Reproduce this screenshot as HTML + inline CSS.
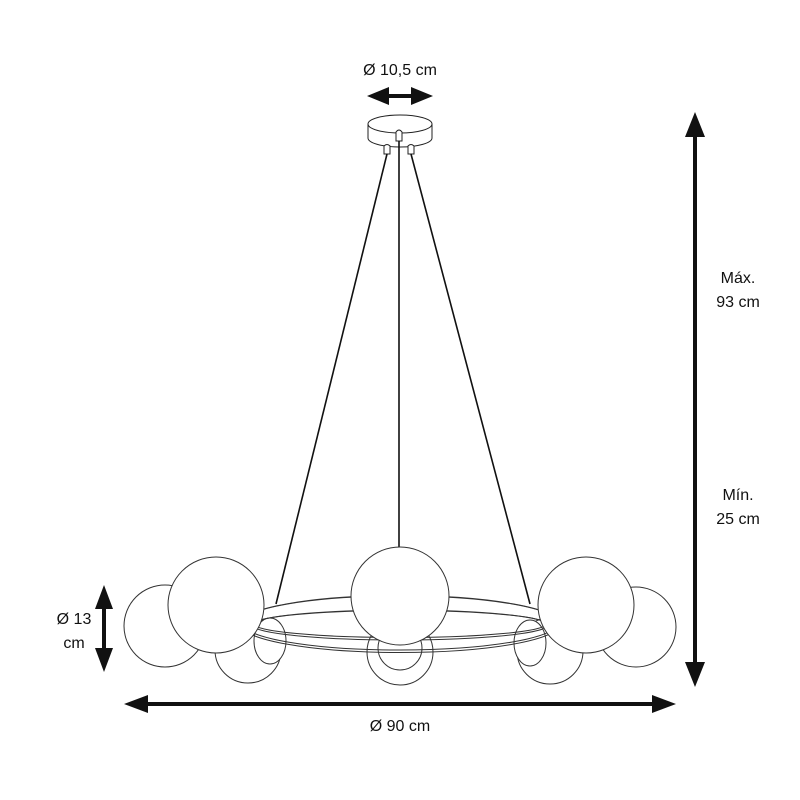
<!DOCTYPE html>
<html><head><meta charset="utf-8"><style>
html,body{margin:0;padding:0;background:#fff}
svg{display:block}
text{font-family:"Liberation Sans","DejaVu Sans",sans-serif;font-size:16px;fill:#111}
</style></head><body>
<svg width="800" height="800" viewBox="0 0 800 800" xmlns="http://www.w3.org/2000/svg">
<rect width="800" height="800" fill="#fff"/>
<g fill="#111" stroke="none">
<rect x="385" y="94" width="30" height="4"/>
<polygon points="367,96 389,87 389,105"/>
<polygon points="433,96 411,87 411,105"/>
<rect x="693" y="130" width="4" height="540"/>
<polygon points="695,112 685,137 705,137"/>
<polygon points="695,687 685,662 705,662"/>
<rect x="102" y="600" width="4" height="58"/>
<polygon points="104,585 95,609 113,609"/>
<polygon points="104,672 95,648 113,648"/>
<rect x="140" y="702" width="520" height="4"/>
<polygon points="124,704 148,695 148,713"/>
<polygon points="676,704 652,695 652,713"/>
</g>
<text x="400" y="75" text-anchor="middle">Ø 10,5 cm</text>
<text x="738" y="283" text-anchor="middle">Máx.</text>
<text x="738" y="307" text-anchor="middle">93 cm</text>
<text x="738" y="500" text-anchor="middle">Mín.</text>
<text x="738" y="524" text-anchor="middle">25 cm</text>
<text x="74" y="624" text-anchor="middle">Ø 13</text>
<text x="74" y="648" text-anchor="middle">cm</text>
<text x="400" y="731" text-anchor="middle">Ø 90 cm</text>
<g stroke="#222" stroke-width="1" fill="#fff">
<path d="M368,124 L368,138 A32,9 0 0 0 432,138 L432,124"/>
<ellipse cx="400" cy="124" rx="32" ry="9"/>
<path d="M396,141 L396,132 Q399,128 402,132 L402,141 Z"/>
<path d="M384,154 L384,146 Q387,143 390,146 L390,154 Z"/>
<path d="M408,154 L408,146 Q411,143 414,146 L414,154 Z"/>
</g>
<g stroke="#111" stroke-width="1.6">
<line x1="387" y1="154" x2="276" y2="604"/>
<line x1="399" y1="141" x2="399" y2="550"/>
<line x1="411" y1="154" x2="530" y2="604"/>
</g>
<g stroke="#333" stroke-width="1" fill="#fff">
<circle cx="165" cy="626" r="41"/>
<circle cx="636" cy="627" r="40"/>
<circle cx="248" cy="650" r="33"/>
<circle cx="400" cy="652" r="33"/>
<circle cx="550" cy="651" r="33"/>
<ellipse cx="270" cy="641" rx="16" ry="23"/>
<circle cx="400" cy="648" r="22"/>
<ellipse cx="530" cy="643" rx="16" ry="23"/>
</g>
<g stroke="#333" stroke-width="1" fill="none">
<ellipse cx="400" cy="623" rx="158" ry="27"/>
<ellipse cx="400" cy="624" rx="160" ry="28.5"/>
<ellipse cx="400" cy="624" rx="146" ry="13.5"/>
<ellipse cx="400" cy="625" rx="148" ry="15"/>
</g>
<g stroke="#333" stroke-width="1" fill="#fff">
<circle cx="216" cy="605" r="48"/>
<circle cx="586" cy="605" r="48"/>
<circle cx="400" cy="596" r="49"/>
</g>
</svg>
</body></html>
